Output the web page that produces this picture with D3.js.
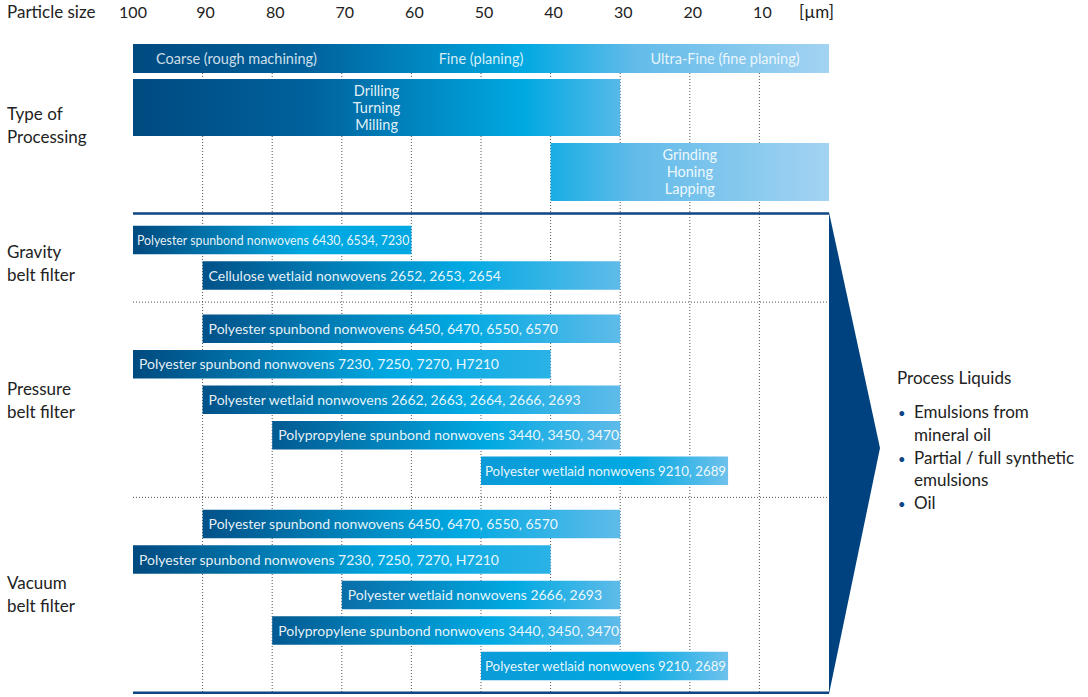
<!DOCTYPE html>
<html><head><meta charset="utf-8">
<script src="https://cdn.jsdelivr.net/npm/d3@7"></script>
<style>body{margin:0;background:#fff}svg{display:block}text{font-family:Lato,"Noto Sans",sans-serif}</style>
</head><body><svg id="c" width="1088" height="697"></svg>
<script>
const ticks = [100,90,80,70,60,50,40,30,20,10];
const unitLabel = "[µm]";
const bandLabels = ["Coarse (rough machining)","Fine (planing)","Ultra-Fine (fine planing)"];
const processing = [
  {lines:["Drilling","Turning","Milling"], start:100, end:30},
  {lines:["Grinding","Honing","Lapping"], start:40, end:0}
];
const groups = ["Gravity|belt filter","Pressure|belt filter","Vacuum|belt filter"];
const groupSlots = [[0,1],[2.5,3.5,4.5,5.5,6.5],[8,9,10,11,12]];
const barLabels = [
  ["Polyester spunbond nonwovens 6430, 6534, 7230","Cellulose wetlaid nonwovens 2652, 2653, 2654"],
  ["Polyester spunbond nonwovens 6450, 6470, 6550, 6570","Polyester spunbond nonwovens 7230, 7250, 7270, H7210","Polyester wetlaid nonwovens 2662, 2663, 2664, 2666, 2693","Polypropylene spunbond nonwovens 3440, 3450, 3470","Polyester wetlaid nonwovens 9210, 2689"],
  ["Polyester spunbond nonwovens 6450, 6470, 6550, 6570","Polyester spunbond nonwovens 7230, 7250, 7270, H7210","Polyester wetlaid nonwovens 2666, 2693","Polypropylene spunbond nonwovens 3440, 3450, 3470","Polyester wetlaid nonwovens 9210, 2689"]
];
const barStart = [[100,90],[90,100,90,80,50],[90,100,70,80,50]];
const barEnd = [[60,30],[30,40,30,30,14.5],[30,40,30,30,14.5]];
const liquidsTitle = "Process Liquids";
const liquids = [["Emulsions from","mineral oil"],["Partial / full synthetic","emulsions"],["Oil"]];

const svg = d3.select("#c");
const defs = svg.append("defs");
const x = d3.scaleLinear().domain([100,0]).range([133,829]);
const y = d3.scaleLinear().domain([0,1]).range([240,275.5]);
const barH = 28.5;
const navy = "#0d4585";

function grad(id, stops, x1, x2){
  const g = defs.append("linearGradient").attr("id",id)
    .attr("gradientUnits", x1===undefined?"objectBoundingBox":"userSpaceOnUse");
  if(x1!==undefined) g.attr("x1",x1).attr("x2",x2).attr("y1",0).attr("y2",0);
  stops.forEach(s=>g.append("stop").attr("offset",s[0]).attr("stop-color",s[1]));
}
grad("gTop",[[0,"#004a80"],[0.25,"#00619c"],[0.56,"#00a9e2"],[0.72,"#62bbe9"],[1,"#a3d3f2"]], x(100), x(0));

// gridlines
const grid = svg.append("g");
grid.selectAll("line.v").data(ticks.filter(t=>t<100)).join("line")
  .attr("x1",d=>x(d)).attr("x2",d=>x(d)).attr("y1",73).attr("y2",y(12.75))
  .attr("stroke","#555").attr("stroke-width",1).attr("stroke-dasharray","1,2");
grid.selectAll("line.h").data([1.75,7.25]).join("line")
  .attr("x1",x(100)).attr("x2",x(0)).attr("y1",d=>y(d)).attr("y2",d=>y(d))
  .attr("stroke","#555").attr("stroke-dasharray","1,2");

// tick labels
svg.selectAll("text.tick").data(ticks).join("text")
  .attr("x",d=>x(d)+(d<100?3:0)).attr("y",18).attr("text-anchor","middle")
  .attr("font-size",16).attr("fill","#222").text(d=>d);
svg.append("text").attr("x",834).attr("y",18).attr("text-anchor","end")
  .attr("font-size",17).attr("fill","#222").text(unitLabel);

function multi(txt, xx, yy, lh, opts){
  const t = svg.append("text").attr("x",xx).attr("y",yy).attr("font-size",opts.size||17).attr("fill",opts.fill||"#222");
  if(opts.anchor) t.attr("text-anchor",opts.anchor);
  if(opts.opacity) t.attr("fill-opacity",opts.opacity);
  txt.forEach((s,i)=>t.append("tspan").attr("x",xx).attr("y",yy+i*lh).text(s));
  return t;
}
multi(["Particle size"],7,18,0,{});
multi(["Type of","Processing"],7,120,23,{});
const groupBase = [258,395,589];
groups.forEach((g,i)=>multi(g.split("|"),7,groupBase[i],23,{}));

// band
svg.append("rect").attr("x",x(100)).attr("y",44).attr("width",x(0)-x(100)).attr("height",29).attr("fill","url(#gTop)");
svg.append("text").attr("x",156).attr("y",64).attr("font-size",14.5).attr("fill","#fff").attr("fill-opacity",0.82).text(bandLabels[0]);
svg.append("text").attr("x",x(50)).attr("y",64).attr("text-anchor","middle").attr("font-size",14.5).attr("fill","#fff").attr("fill-opacity",0.85).text(bandLabels[1]);
svg.append("text").attr("x",725).attr("y",64).attr("text-anchor","middle").attr("font-size",14.5).attr("fill","#fff").attr("fill-opacity",0.85).text(bandLabels[2]);

// processing bars
const procY = [[79,57],[143,58]];
processing.forEach((p,i)=>{
  svg.append("rect").attr("x",x(p.start)).attr("y",procY[i][0]).attr("width",x(p.end)-x(p.start)).attr("height",procY[i][1]).attr("fill","url(#gTop)");
  multi(p.lines,(x(p.start)+x(p.end))/2,procY[i][0]+17,17,{size:14.5,anchor:"middle",fill:"#fff",opacity:0.9});
});

// product bars
const cStart = d3.scaleLinear().domain([100,80,70,50]).range(["#004a7f","#035a92","#0a6ea8","#0b9bd8"]).clamp(true);
const cEnd = d3.scaleLinear().domain([60,40,30,15]).range(["#00a7e0","#2ab2e6","#5fbbe9","#6ec1ec"]).clamp(true);
let k=0;
barLabels.forEach((labels,gi)=>{
  labels.forEach((lab,ri)=>{
    const s=barStart[gi][ri], e=barEnd[gi][ri], slot=groupSlots[gi][ri];
    const id="gb"+(k++);
    grad(id,[[0,cStart(s)],[0.62,"#00a9e2"],[1,cEnd(e)]]);
    const bx=x(s), bw=x(e)-x(s), by=y(slot)-barH/2;
    svg.append("rect").attr("x",bx).attr("y",by).attr("width",bw).attr("height",barH).attr("fill","url(#"+id+")");
    const t=svg.append("text").attr("x",bx+6).attr("y",y(slot)+5).attr("font-size",14).attr("fill","#fff").attr("fill-opacity",0.92).text(lab);
    const w=t.node().getComputedTextLength();
    if(w>bw-6) t.attr("textLength",bw-6).attr("lengthAdjust","spacingAndGlyphs").attr("x",bx+4);
  });
});

// heavy lines and arrow
[-0.75,12.75].forEach(s=>svg.append("line").attr("x1",x(100)).attr("x2",x(0)).attr("y1",y(s)).attr("y2",y(s)).attr("stroke",navy).attr("stroke-width",2.5));
svg.append("path").attr("d",`M${x(0)},${y(-0.75)-1.25}L880,448L${x(0)},${y(12.75)+1.25}Z`).attr("fill","#00427f");

// right text
svg.append("text").attr("x",897).attr("y",384).attr("font-size",17).attr("fill","#222").text(liquidsTitle);
let ly=418;
liquids.forEach(item=>{
  svg.append("text").attr("x",898).attr("y",ly).attr("font-size",13).attr("fill",navy).text("•");
  item.forEach((s,i)=>{svg.append("text").attr("x",914).attr("y",ly).attr("font-size",17).attr("fill","#222").text(s); ly+=22.8;});
});
</script></body></html>
